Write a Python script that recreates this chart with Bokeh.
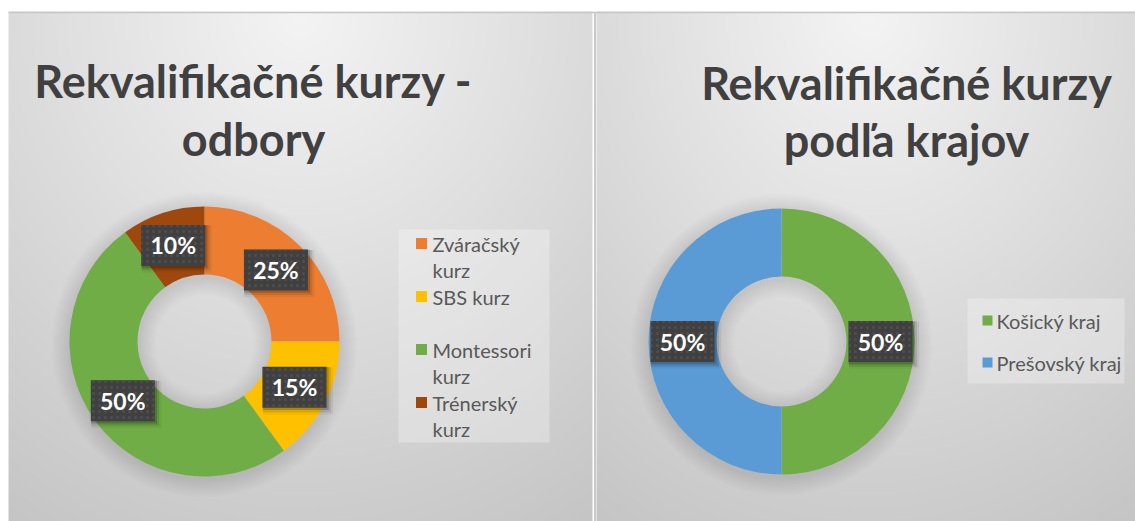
import numpy as np
from bokeh.plotting import figure
from bokeh.models import Range1d, ColumnDataSource
from bokeh.core.properties import value
from bokeh.embed import file_html
from bokeh.resources import INLINE

# ---------------- data ----------------
left_title = ["Rekvalifikačné kurzy -", "odbory"]
left_categories = ["Zváračský kurz", "SBS kurz", "Montessori kurz", "Trénerský kurz"]
left_values = [25, 15, 50, 10]
left_colors = ["#ED7D31", "#FFC000", "#70AD47", "#9E480E"]

right_title = ["Rekvalifikačné kurzy", "podľa krajov"]
right_categories = ["Košický kraj", "Prešovský kraj"]
right_values = [50, 50]
right_colors = ["#70AD47", "#5B9BD5"]

# ---------------- layout / style ----------------
W, H = 1135, 521
FONT = value("Lato")


def Y(top):
    return H - top


p = figure(width=W, height=H, x_range=Range1d(0, W), y_range=Range1d(0, H),
           output_backend="svg", toolbar_location=None,
           x_axis_type=None, y_axis_type=None, min_border=0)
p.outline_line_color = None
p.grid.visible = False
p.background_fill_color = "white"
p.border_fill_color = "white"

# background: two panels with soft radial gradient
S = 2
nx, ny = W // S + 1, H // S + 1
xs = (np.arange(nx) + 0.5) * S
ys_top = H - (np.arange(ny) + 0.5) * S
XX, YT = np.meshgrid(xs, ys_top)
gray = np.full(XX.shape, 255.0)
panels = [(8, 593), (596, W + 2)]
PTOP = 12
for (x0, x1) in panels:
    cx = (x0 + x1) / 2
    pw = x1 - x0
    d = np.sqrt(((XX - cx) / (0.8 * pw)) ** 2 + ((YT - PTOP) / (H - PTOP)) ** 2)
    g = np.clip(244 - 40 * d, 196, 255)
    mask = (XX >= x0) & (XX < x1) & (YT >= PTOP)
    gray[mask] = g[mask]
gi = gray.astype(np.uint32)
img = (255 << 24) | (gi << 16) | (gi << 8) | gi
p.image_rgba(image=[img.astype(np.uint32)], x=0, y=0, dw=nx * S, dh=ny * S)

# panel borders
p.segment(x0=[8], y0=[Y(PTOP)], x1=[W], y1=[Y(PTOP)], line_color="#c6c6c6", line_width=1.5)
p.segment(x0=[594.5], y0=[Y(PTOP)], x1=[594.5], y1=[0], line_color="#c9c9c9", line_width=2)


def donut(values, colors, cx, cy_top, r_out, r_in):
    cy = Y(cy_top)
    # soft shadow
    for k in range(1, 13):
        p.annulus(x=[cx], y=[cy - 3], inner_radius=max(r_in - 1.5 * k, 1),
                  outer_radius=r_out + 1.5 * k, fill_color="black",
                  fill_alpha=0.009, line_color=None)
    total = float(sum(values))
    fr = np.array(values) / total
    cum = np.concatenate([[0], np.cumsum(fr)])
    start = np.pi / 2 - 2 * np.pi * cum[:-1]
    end = np.pi / 2 - 2 * np.pi * cum[1:]
    src = ColumnDataSource(dict(start=start, end=end, color=colors))
    p.annular_wedge(x=cx, y=cy, inner_radius=r_in, outer_radius=r_out,
                    start_angle="start", end_angle="end", direction="clock",
                    fill_color="color", line_color=None, source=src)
    mid = 2 * np.pi * (cum[:-1] + fr / 2)
    rm = (r_in + r_out) / 2
    lx = cx + rm * np.sin(mid)
    ly = cy + rm * np.cos(mid)
    labels = [f"{round(f * 100)}%" for f in fr]
    lsrc = ColumnDataSource(dict(x=lx, y=ly, t=labels))
    # box shadow
    for k, a in [(2, 0.18), (4, 0.10), (6, 0.05)]:
        sh = ColumnDataSource(dict(x=lx + k * 0.6, y=ly - k * 0.6))
        p.rect(x="x", y="y", width=64 + k, height=41 + k, source=sh, fill_color="black",
               fill_alpha=a, line_color=None)
    p.rect(x="x", y="y", width=64, height=41, source=lsrc, fill_color="#404040",
           line_color=None, hatch_pattern="dot", hatch_color="#5a5a5a",
           hatch_scale=6, hatch_weight=1, hatch_alpha=0.55)
    p.text(x="x", y="y", text="t", source=lsrc, text_align="center",
           text_baseline="middle", text_font=FONT, text_font_style="bold",
           text_font_size="23px", text_color="white")


def title(lines, cx, baselines):
    p.text(x=[cx] * len(lines), y=[Y(b) for b in baselines], text=lines,
           text_align="center", text_baseline="alphabetic", text_font=FONT,
           text_font_style="bold", text_font_size="45px", text_color="#404040")


def wrap(label, maxlen):
    if len(label) <= maxlen or " " not in label:
        return [label]
    i = label.rfind(" ")
    return [label[:i], label[i + 1:]]


def legend(cats, colors, box, first_y, row_h, line_h, sq_x, sq, txt_x, maxlen):
    bx0, by0, bx1, by1 = box
    p.quad(left=[bx0], right=[bx1], top=[Y(by0)], bottom=[Y(by1)],
           fill_color="white", fill_alpha=0.28, line_color=None)
    for i, (c, col) in enumerate(zip(cats, colors)):
        yc = first_y + row_h * i
        p.rect(x=[sq_x], y=[Y(yc)], width=sq, height=sq, fill_color=col, line_color=None)
        lines = wrap(c, maxlen)
        p.text(x=[txt_x] * len(lines), y=[Y(yc + line_h * j) for j in range(len(lines))],
               text=lines, text_align="left", text_baseline="middle", text_font=FONT,
               text_font_size="20px", text_color="#595959")


# left chart
title(left_title, 253, [80, 138])
donut(left_values, left_colors, 204, 341, 135, 67)
legend(left_categories, left_colors, (398, 229, 549, 442), 243, 53, 26.5,
       421, 11, 432, 10)

# right chart
title(right_title, 906, [82, 139])
donut(right_values, right_colors, 781, 341, 133, 65)
legend(right_categories, right_colors, (967, 298, 1124, 383), 320, 42, 26,
       987, 10, 996, 100)

open("out.html", "w").write(file_html(p, INLINE))
